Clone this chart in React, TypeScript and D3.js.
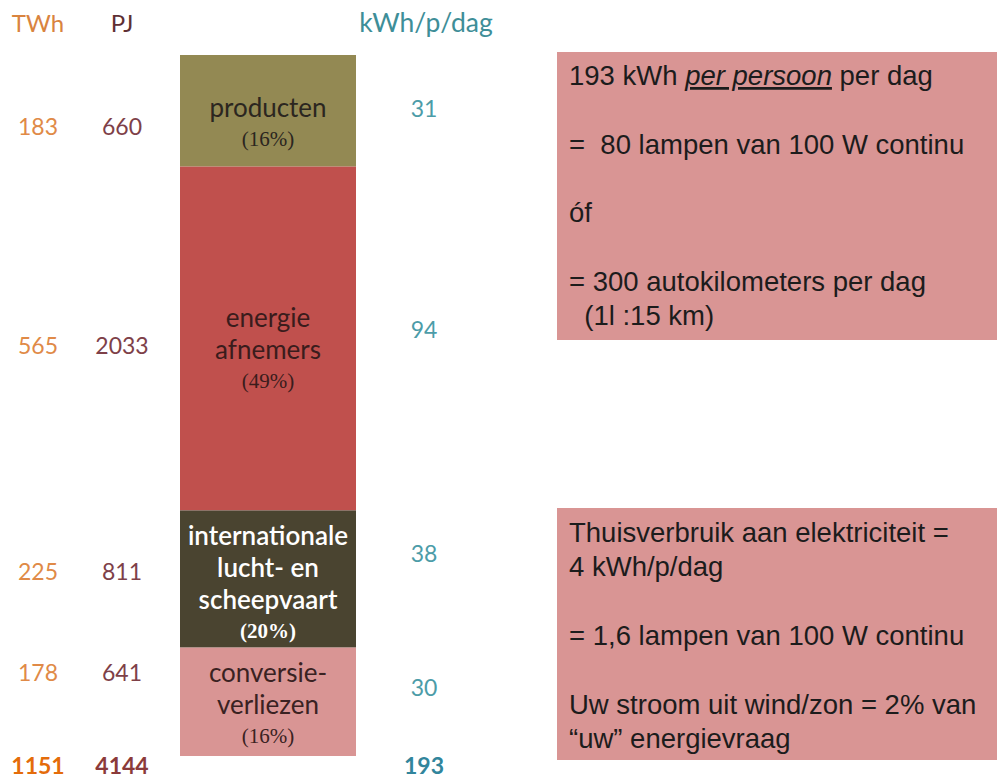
import React from 'react';
import * as d3 from 'd3';

// energy use per category (Netherlands)
const categories = ['producten', 'energie afnemers', 'internationale lucht- en scheepvaart', 'conversieverliezen'];
const labelLines = [['producten'], ['energie', 'afnemers'], ['internationale', 'lucht- en', 'scheepvaart'], ['conversie-', 'verliezen']];
const shareLabels = ['(16%)', '(49%)', '(20%)', '(16%)'];
const pjValues = [660, 2033, 811, 641];
const twhValues = [183, 565, 225, 178];
const kwhValues = [31, 94, 38, 30];
const totals = { twh: 1151, pj: 4144, kwh: 193 };
const headers = ['TWh', 'PJ', 'kWh/p/dag'];

const box1Lines = ['193 kWh |per persoon| per dag', '', '=  80 lampen van 100 W continu', '', 'óf', '', '= 300 autokilometers per dag', '  (1l :15 km)'];
const box2Lines = ['Thuisverbruik aan elektriciteit =', '4 kWh/p/dag', '', '= 1,6 lampen van 100 W continu', '', 'Uw stroom uit wind/zon = 2% van', '“uw” energievraag'];

const segColors = ['#938953', '#C0504D', '#4A4430', '#D99594'];
const segText = ['#2b2620', '#3a1c1c', '#ffffff', '#3a2222'];
const numFont = 'Lato, "Open Sans", sans-serif';

// small vertical nudges so side numbers sit where the slide has them
const sideNudge = [15, 6, -8, -30];
const kwhNudge = [-3, -10, -26, -15];
const labelNudge = [12, 10, 4, 2];

export default function App() {
  const width = 997, height = 780;
  const barX = 180, barW = 176;
  const y = d3.scaleLinear().domain([0, d3.sum(pjValues)]).range([55, 756]);
  const cum = Array.from(d3.cumsum(pjValues));
  const segs = pjValues.map((v, i) => {
    const end = cum[i];
    const start = end - v;
    return { i, y0: y(start), y1: y(end), mid: (y(start) + y(end)) / 2 };
  });

  const colX = { twh: 38, pj: 122, kwh: 424 };
  const lineH = 32;

  const renderBox = (lines: string[], top: number, bottom: number, firstBase: number) => (
    <g>
      <rect x={557} y={top} width={width - 557} height={bottom - top} fill="#D99594" />
      {lines.map((ln, k) => {
        const parts = ln.split('|');
        return (
          <text key={k} x={569} y={firstBase + k * 34.3} fontFamily='"Liberation Sans", Arial, sans-serif' fontSize={27.5} fill="#1c1c1c" style={{ whiteSpace: 'pre' }}>
            {parts.map((p, j) => (
              <tspan key={j} fontStyle={j === 1 ? 'italic' : 'normal'} textDecoration={j === 1 ? 'underline' : 'none'}>{p}</tspan>
            ))}
          </text>
        );
      })}
    </g>
  );

  return (
    <svg width={width} height={height} style={{ position: 'absolute', left: 0, top: 0, background: '#fff' }}>
      {/* headers */}
      <text x={colX.twh} y={32} textAnchor="middle" fontFamily={numFont} fontSize={24} fill="#D9843F">{headers[0]}</text>
      <text x={colX.pj} y={32} textAnchor="middle" fontFamily={numFont} fontSize={24} fill="#5E2F33">{headers[1]}</text>
      <text x={426} y={32} textAnchor="middle" fontFamily={numFont} fontSize={26.5} fill="#3E8E98">{headers[2]}</text>

      {segs.map(s => (
        <g key={categories[s.i]}>
          <rect x={barX} y={s.y0} width={barW} height={s.y1 - s.y0} fill={segColors[s.i]} />
          {labelLines[s.i].concat([shareLabels[s.i]]).map((ln, k, arr) => {
            const cy = s.mid + labelNudge[s.i] + (k - (arr.length - 1) / 2) * lineH;
            const isShare = k === arr.length - 1;
            return (
              <text key={k} x={barX + barW / 2} y={cy} textAnchor="middle" dominantBaseline="central"
                fontFamily={isShare ? '"Liberation Serif", "DejaVu Serif", serif' : numFont}
                fontSize={isShare ? 21 : 26}
                fontWeight={s.i === 2 ? 600 : 'normal'}
                fill={segText[s.i]}>{ln}</text>
            );
          })}
          <text x={colX.twh} y={s.mid + sideNudge[s.i]} textAnchor="middle" dominantBaseline="central" fontFamily={numFont} fontSize={23} fill="#E08A47">{twhValues[s.i]}</text>
          <text x={colX.pj} y={s.mid + sideNudge[s.i]} textAnchor="middle" dominantBaseline="central" fontFamily={numFont} fontSize={23} fill="#7E4048">{pjValues[s.i]}</text>
          <text x={colX.kwh} y={s.mid + kwhNudge[s.i]} textAnchor="middle" dominantBaseline="central" fontFamily={numFont} fontSize={23} fill="#4C9CA8">{kwhValues[s.i]}</text>
        </g>
      ))}

      {/* totals */}
      <text x={colX.twh} y={774} textAnchor="middle" fontFamily={numFont} fontSize={23} fontWeight="bold" fill="#E46C0A">{totals.twh}</text>
      <text x={colX.pj} y={774} textAnchor="middle" fontFamily={numFont} fontSize={23} fontWeight="bold" fill="#8B3A3A">{totals.pj}</text>
      <text x={colX.kwh} y={774} textAnchor="middle" fontFamily={numFont} fontSize={23} fontWeight="bold" fill="#31859C">{totals.kwh}</text>

      {renderBox(box1Lines, 52, 340, 85)}
      {renderBox(box2Lines, 508, 760, 542)}
    </svg>
  );
}
